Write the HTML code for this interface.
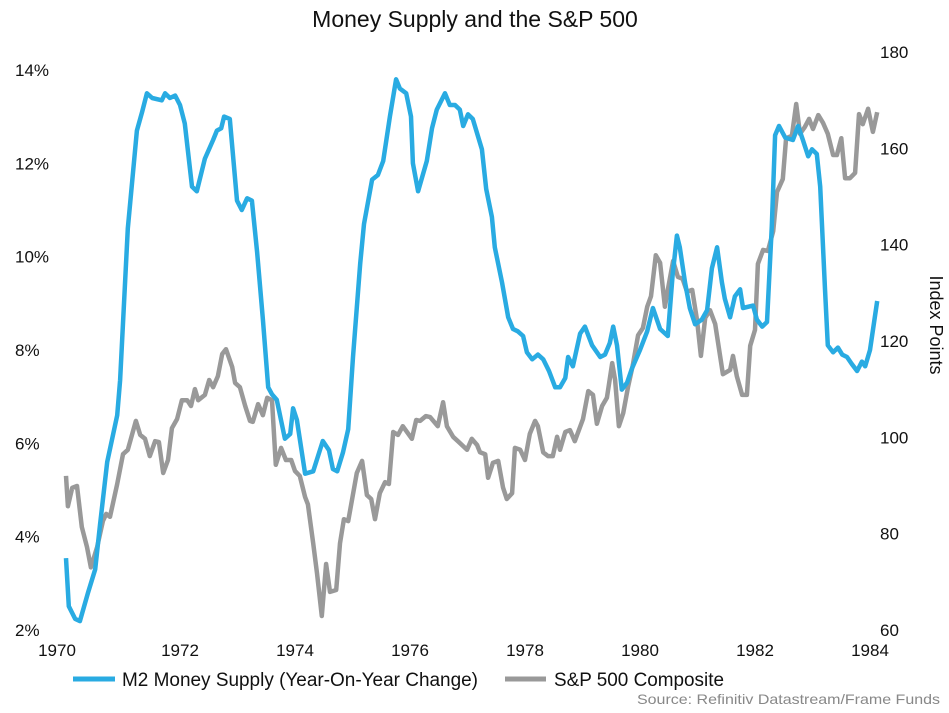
<!DOCTYPE html>
<html><head><meta charset="utf-8"><style>
html,body{margin:0;padding:0;background:#fff;overflow:hidden;}
svg{display:block;font-family:"Liberation Sans",Arial,sans-serif;}
</style></head><body>
<svg id="chart" width="949" height="713" viewBox="0 0 949 713">
<text x="475" y="27" font-size="23" text-anchor="middle" fill="#111">Money Supply and the S&amp;P 500</text>
<g id="leftAxis"></g>
<g id="rightAxis"></g>
<g id="xAxis"></g>
<text transform="translate(930,325) rotate(90)" font-size="18" text-anchor="middle" fill="#111">Index Points</text>
<g id="series"></g>
<g>
<line x1="73" y1="679" x2="115" y2="679" stroke="#29abe2" stroke-width="5"/>
<text x="122" y="686" font-size="19" fill="#111" textLength="356" lengthAdjust="spacingAndGlyphs">M2 Money Supply (Year-On-Year Change)</text>
<line x1="505" y1="679" x2="546" y2="679" stroke="#999" stroke-width="5"/>
<text x="554" y="686" font-size="19" fill="#111" textLength="170" lengthAdjust="spacingAndGlyphs">S&amp;P 500 Composite</text>
</g>
<text x="940" y="704" font-size="14" text-anchor="end" fill="#888" textLength="303" lengthAdjust="spacingAndGlyphs">Source: Refinitiv Datastream/Frame Funds</text>
</svg>
<script>
// months since Jan 1970
const m2Months=[0.2,0.8,2.1,3.1,4.8,6.3,7.3,8.8,10.9,11.5,13.1,15.0,16.1,17.1,18.2,20.2,20.9,21.9,23.0,24.0,25.0,26.5,27.5,29.2,30.9,31.7,32.6,33.2,34.4,35.9,36.9,38.0,39.0,40.1,41.3,42.4,43.2,44.2,45.9,47.0,47.6,48.4,50.1,51.8,53.8,55.1,55.9,56.8,58.0,59.1,60.1,61.6,62.4,64.1,65.3,66.4,67.8,69.1,69.9,71.2,72.2,72.6,73.7,75.5,76.6,77.6,79.3,80.3,81.4,82.4,83.1,84.1,85.1,87.0,87.9,89.1,89.7,91.2,92.5,93.5,94.5,95.6,96.4,97.5,98.7,99.8,101.0,102.3,103.3,104.4,105.0,106.0,107.5,108.5,110.0,111.7,112.7,113.7,114.4,115.2,116.2,117.3,118.3,120.0,121.5,122.7,124.2,125.8,126.8,127.7,128.3,129.4,130.4,131.5,132.9,134.0,135.0,136.1,137.1,137.7,138.8,139.8,140.9,141.5,143.6,144.4,145.5,146.5,147.5,148.2,149.0,150.3,151.9,153.0,154.0,155.1,155.9,156.9,157.6,158.6,159.2,160.3,161.3,162.2,163.2,164.2,165.3,166.3,167.0,168.0,169.5];
const m2Values=[3.54,2.51,2.24,2.19,2.8,3.3,4.25,5.6,6.6,7.35,10.6,12.7,13.1,13.5,13.4,13.35,13.5,13.4,13.45,13.25,12.85,11.5,11.4,12.1,12.5,12.7,12.75,13.0,12.95,11.2,11.0,11.25,11.2,10.1,8.65,7.2,7.05,6.93,6.1,6.2,6.75,6.5,5.35,5.4,6.05,5.85,5.45,5.4,5.8,6.3,7.85,9.85,10.7,11.65,11.75,12.05,13.0,13.8,13.6,13.5,13.0,12.0,11.4,12.05,12.75,13.15,13.5,13.25,13.25,13.15,12.8,13.05,12.95,12.3,11.45,10.85,10.2,9.45,8.7,8.45,8.4,8.3,7.95,7.8,7.9,7.8,7.55,7.2,7.2,7.4,7.85,7.65,8.35,8.5,8.1,7.85,7.9,8.15,8.5,8.1,7.15,7.3,7.6,8.0,8.4,8.9,8.45,8.3,9.6,10.45,10.2,9.45,8.9,8.55,8.65,8.85,9.75,10.2,9.45,9.1,8.7,9.15,9.3,8.9,8.95,8.65,8.5,8.6,10.65,12.6,12.8,12.55,12.5,12.8,12.5,12.15,12.3,12.2,11.5,9.3,8.1,7.95,8.05,7.9,7.85,7.7,7.55,7.75,7.65,8.0,9.05];
const spMonths=[0.2,0.6,1.5,2.5,3.5,4.6,5.4,6.7,7.9,8.6,9.4,10.9,12.1,13.1,14.8,15.7,16.7,17.7,18.8,19.6,20.5,21.5,22.3,23.4,24.4,25.5,26.3,27.1,27.8,29.2,30.1,30.9,31.9,32.8,33.6,34.9,35.5,36.5,37.6,38.6,39.2,40.3,41.3,42.2,43.2,44.0,45.1,46.1,47.2,48.0,49.0,50.1,50.7,51.8,52.6,53.6,54.5,55.3,56.6,57.4,58.2,59.1,60.9,62.0,63.0,63.9,64.7,65.7,66.8,67.6,68.5,69.5,70.5,72.4,73.3,74.1,75.3,76.2,77.8,78.9,79.7,81.0,82.0,83.9,84.9,86.0,86.6,87.7,88.3,89.3,90.4,91.4,92.2,93.3,93.9,95.0,96.0,97.0,98.1,98.7,99.8,100.8,101.8,102.7,103.3,104.4,105.4,106.4,108.1,109.2,110.2,111.0,112.1,113.1,114.2,114.8,115.6,116.5,117.5,118.5,119.6,120.6,121.5,122.3,123.3,124.2,125.2,125.8,126.9,127.9,128.9,129.8,130.9,131.9,132.7,133.6,134.6,135.7,137.3,138.8,139.4,140.2,141.3,142.3,143.0,144.0,144.6,145.7,146.7,147.8,148.6,149.8,150.5,151.7,152.6,153.4,154.4,155.3,156.1,157.2,158.2,159.2,160.3,161.1,162.0,162.8,163.8,164.9,165.7,166.5,167.6,168.6,169.5];
const spValues=[92.0,85.7,89.5,89.9,81.4,77.2,73.0,77.2,82.6,84.1,83.5,90.3,96.5,97.4,103.4,100.5,99.7,96.1,99.2,99.0,92.6,95.3,101.9,103.8,107.7,107.7,106.5,110.0,107.7,108.8,111.9,110.4,112.7,117.3,118.3,114.6,111.3,110.4,106.5,103.4,103.2,106.9,104.6,108.2,107.7,94.3,97.8,95.3,95.3,93.0,92.0,87.6,86.1,78.0,71.8,62.9,73.7,67.9,68.3,78.0,83.0,82.6,92.6,95.1,88.0,87.2,83.0,88.4,90.7,90.3,101.1,100.5,102.3,99.7,103.6,103.4,104.4,104.2,102.3,107.3,102.3,100.1,99.2,97.4,99.7,98.4,96.9,96.5,91.6,94.7,95.1,89.6,87.2,88.4,97.8,97.4,95.3,100.7,103.4,102.3,96.9,96.1,96.1,100.1,97.4,101.1,101.5,99.2,103.8,109.6,108.8,102.8,106.5,108.2,115.4,111.9,102.3,105.0,110.4,115.0,121.2,122.7,127.1,129.3,137.8,136.2,127.1,130.6,136.6,133.3,132.9,130.2,130.6,124.4,116.9,124.8,126.4,123.5,113.1,114.0,116.9,112.7,108.8,108.8,119.0,122.3,136.0,138.9,138.7,142.8,150.9,153.6,162.1,162.6,169.2,163.0,164.4,166.1,164.0,166.9,165.3,163.0,158.6,158.6,162.1,153.8,153.8,154.9,167.1,165.0,168.2,163.4,167.5];
const leftTicks=[2,4,6,8,10,12,14];
const rightTicks=[60,80,100,120,140,160,180];
const yearTicks=[1970,1972,1974,1976,1978,1980,1982,1984];

const NS="http://www.w3.org/2000/svg";
function xScale(m){return 65+m/12*57.5;}
function yLeft(v){return 630-(v-2)*46.67;}
function yRight(v){return 630-(v-60)*4.817;}
function mk(tag,attrs,parent){const e=document.createElementNS(NS,tag);for(const k in attrs)e.setAttribute(k,attrs[k]);parent.appendChild(e);return e;}

const la=document.getElementById('leftAxis');
leftTicks.forEach(v=>{const t=mk('text',{x:15,y:yLeft(v)+6,'font-size':17,fill:'#111'},la);t.textContent=v+'%';

});
const ra=document.getElementById('rightAxis');
rightTicks.forEach(v=>{const t=mk('text',{x:880,y:yRight(v)+6,'font-size':17,fill:'#111'},ra);t.textContent=v;

});
const xa=document.getElementById('xAxis');
yearTicks.forEach((y,i)=>{const cx=xScale((y-1970)*12)-(i===0?8:0);const t=mk('text',{x:cx,y:656,'font-size':17,fill:'#111','text-anchor':'middle'},xa);t.textContent=y;

});

const g=document.getElementById('series');
function path(ms,vs,ys){return ms.map((m,i)=>(i?'L':'M')+xScale(m).toFixed(1)+','+ys(vs[i]).toFixed(1)).join('');}
const sp=mk('path',{d:path(spMonths,spValues,yRight),fill:'none',stroke:'#999','stroke-width':4.5,'stroke-linejoin':'round'},g);


const m2=mk('path',{d:path(m2Months,m2Values,yLeft),fill:'none',stroke:'#29abe2','stroke-width':4.5,'stroke-linejoin':'round'},g);


</script>
</body></html>
